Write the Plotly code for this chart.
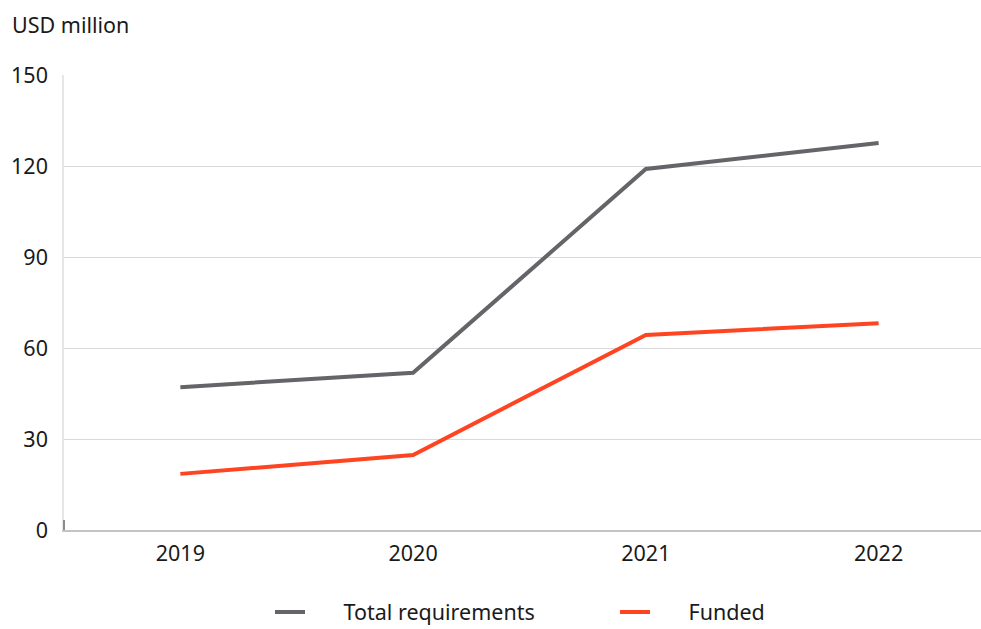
import plotly.graph_objects as go

years = ["2019", "2020", "2021", "2022"]
total_requirements = [47.1, 51.8, 119.0, 127.6]
funded = [18.5, 24.7, 64.3, 68.2]
y_ticks = [0, 30, 60, 90, 120, 150]

FONT = "Noto Sans"
PLOT_W = 917
PLOT_H = 455
fig = go.Figure()
fig.add_trace(go.Scatter(x=years, y=total_requirements, mode="lines",
                         name="\u00a0\u00a0\u00a0\u00a0\u00a0\u00a0Total requirements",
                         line=dict(color="#646469", width=4)))
fig.add_trace(go.Scatter(x=years, y=funded, mode="lines",
                         name="\u00a0\u00a0\u00a0\u00a0\u00a0\u00a0Funded",
                         line=dict(color="#FF4422", width=4)))

fig.update_layout(
    width=981, height=629,
    margin=dict(l=64, r=0, t=75, b=99, autoexpand=False),
    plot_bgcolor="white", paper_bgcolor="white",
    font=dict(family=FONT, size=21.5, color="#1a1a1a"),
    showlegend=True,
    legend=dict(orientation="h", x=(270 - 64) / PLOT_W, xanchor="left", y=-82 / PLOT_H,
                yanchor="middle", font=dict(size=21.5), entrywidth=300),
    annotations=[dict(text="USD million", xref="paper", yref="paper", x=-54 / PLOT_W,
                      y=1 + 50 / PLOT_H, xanchor="left", yanchor="middle",
                      showarrow=False, font=dict(size=21.5))],
    shapes=[dict(type="line", xref="paper", yref="y", x0=0, x1=0, y0=0, y1=3.3,
                 line=dict(color="#8c8c8c", width=2))],
)
fig.update_xaxes(range=[-0.5, 3.44], showgrid=False, showline=True, linecolor="#c4c4c4",
                 linewidth=1.5, ticks="", ticklabelstandoff=3)
fig.update_yaxes(range=[0, 150], tickvals=y_ticks, showgrid=True, gridcolor="#d9d9d9",
                 gridwidth=1, showline=True, linecolor="#e6e6e6", linewidth=1.5,
                 zeroline=False, ticks="", ticklabelstandoff=10)

fig.write_html("out.html", config={"displayModeBar": False},
               post_script="document.body.style.margin='0';document.body.style.overflow='hidden';")
